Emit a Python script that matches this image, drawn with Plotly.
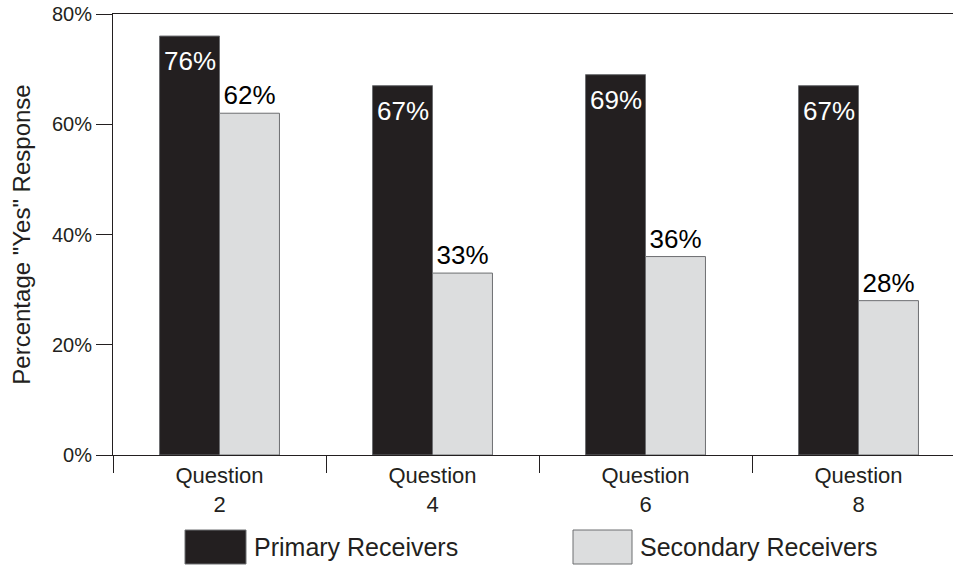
import plotly.graph_objects as go

categories = ["Question<br>2", "Question<br>4", "Question<br>6", "Question<br>8"]
primary = [76, 67, 69, 67]
secondary = [62, 33, 36, 28]
series_names = ["Primary Receivers", "Secondary Receivers"]
y_ticks = [0, 20, 40, 60, 80]
y_tick_labels = ["0%", "20%", "40%", "60%", "80%"]

FONT = "Liberation Sans, Arial, Helvetica, sans-serif"
DARK = "#231f20"
LIGHT = "#dcddde"
EDGE = "#6d6e71"

fig = go.Figure()
fig.add_trace(go.Bar(
    x=categories, y=primary, name=series_names[0],
    marker=dict(color=DARK, line=dict(color=EDGE, width=1)),
    showlegend=False,
))
fig.add_trace(go.Bar(
    x=categories, y=secondary, name=series_names[1],
    marker=dict(color=LIGHT, line=dict(color=EDGE, width=1)),
    text=[f"{v}%" for v in secondary], textposition="outside",
    textfont=dict(color="black", size=26, family=FONT), constraintext="none",
    cliponaxis=False, showlegend=False,
))

# primary labels: inside the top of each dark bar
for cat, v in zip(categories, primary):
    fig.add_annotation(x=cat, y=v, xref="x", yref="y", text=f"{v}%",
                       showarrow=False, xanchor="center", yanchor="top",
                       xshift=-30, yshift=-8,
                       font=dict(color="white", size=26, family=FONT))

fig.update_layout(
    width=953, height=567,
    margin=dict(l=113, r=0, t=14, b=112),
    paper_bgcolor="white", plot_bgcolor="white",
    barmode="group", bargap=0.437, bargroupgap=0,
    font=dict(family=FONT, color=DARK),
    showlegend=False,
)
fig.update_xaxes(
    type="category", range=[-0.5, -0.5 + 840 / 213],
    tickson="boundaries", ticks="outside", ticklen=17, tickcolor=DARK, tickwidth=1,
    showline=True, linecolor=DARK, linewidth=1, mirror=True,
    showgrid=False, tickfont=dict(size=22, color=DARK), ticklabelstandoff=1,
)
fig.update_yaxes(
    range=[0, 80], tickvals=y_ticks, ticktext=y_tick_labels,
    ticks="outside", ticklen=16, tickcolor=DARK, tickwidth=1,
    showline=True, linecolor=DARK, linewidth=1, showgrid=False, zeroline=False,
    tickfont=dict(size=20, color=DARK),
    title=dict(text='Percentage "Yes" Response', font=dict(size=24, color=DARK), standoff=14),
)

# legend drawn manually
legend_items = [(185, 246, DARK, series_names[0]), (573, 632, LIGHT, series_names[1])]
for x0, x1, col, label in legend_items:
    fig.add_shape(type="rect", xref="paper", yref="paper",
                  x0=(x0 - 113) / 840, x1=(x1 - 113) / 840,
                  y0=-(564 - 455) / 441, y1=-(530 - 455) / 441,
                  fillcolor=col, line=dict(color=EDGE, width=1))
    fig.add_annotation(xref="paper", yref="paper",
                       x=(x1 + 6 - 113) / 840, y=-(547 - 455) / 441,
                       text=label, showarrow=False, xanchor="left", yanchor="middle",
                       font=dict(size=25, color=DARK, family=FONT))

fig.write_html("out.html")
